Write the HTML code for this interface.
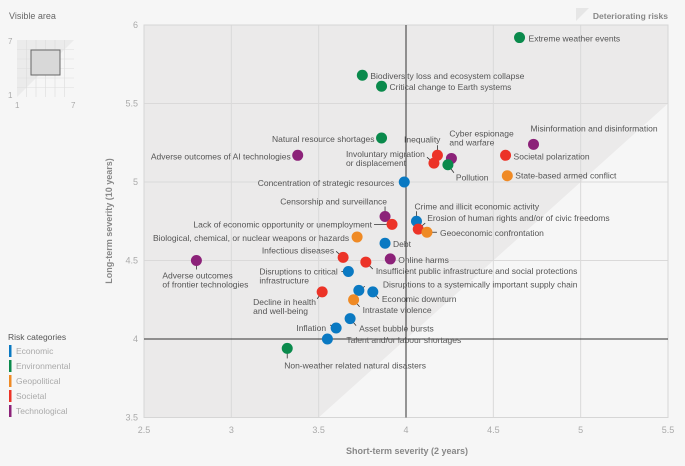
<!DOCTYPE html>
<html><head><meta charset="utf-8"><style>
body{margin:0;background:#f6f6f6;font-family:"Liberation Sans",sans-serif}
svg text{font-family:"Liberation Sans",sans-serif}
</style></head><body>
<svg id="c" width="685" height="461" xmlns="http://www.w3.org/2000/svg">
<rect x="0" y="0" width="685" height="461" fill="#f6f6f6"/>
<g>
<text x="9" y="19" font-size="9" fill="#666">Visible area</text>
<rect x="17" y="40" width="57" height="57" fill="#ebebeb"/>
<polygon points="17,97 74,97 74,40" fill="#f6f6f6"/>
<path d="M26.5,40V97M36,40V97M45.5,40V97M55,40V97M64.5,40V97M17,49.5H74M17,59H74M17,68.5H74M17,78H74M17,87.5H74" stroke="#ddd" stroke-width="0.6"/>
<rect x="31" y="50" width="29" height="25" fill="#d8d8d8" stroke="#666" stroke-width="1"/>
<text x="8" y="44" font-size="8" fill="#aaa">7</text><text x="8" y="98" font-size="8" fill="#aaa">1</text>
<text x="15" y="108" font-size="8" fill="#aaa">1</text><text x="71" y="108" font-size="8" fill="#aaa">7</text>
</g>
<g>
<text x="8" y="340" font-size="8.5" fill="#555">Risk categories</text>
<g id="leg"></g>
</g>
<g>
<polygon points="576,8 589,8 576,21" fill="#e6e6e6"/>
<text x="668" y="19" font-size="8.5" font-weight="bold" fill="#888" text-anchor="end">Deteriorating risks</text>
</g>
<g id="plot"></g>
<text x="407" y="454" font-size="9" font-weight="bold" fill="#888" text-anchor="middle">Short-term severity (2 years)</text>
<text transform="translate(112,221) rotate(-90)" font-size="9" font-weight="bold" fill="#888" text-anchor="middle">Long-term severity (10 years)</text>
</svg>
<script>
const categories=["Economic","Environmental","Geopolitical","Societal","Technological"];
const catColors=["#0a79c2","#0a8a4c","#ef8a25","#ec3327","#8c2279"];
const xTicks=[2.5,3,3.5,4,4.5,5,5.5];
const yTicks=[3.5,4,4.5,5,5.5,6];
const xTickLabels=["2.5","3","3.5","4","4.5","5","5.5"];
const yTickLabels=["3.5","4","4.5","5","5.5","6"];
const riskNames=["Extreme weather events","Biodiversity loss and ecosystem collapse","Critical change to Earth systems","Natural resource shortages","Adverse outcomes of AI technologies","Inequality","Involuntary migration|or displacement","Cyber espionage|and warfare","Pollution","Misinformation and disinformation","Societal polarization","State-based armed conflict","Concentration of strategic resources","Censorship and surveillance","Lack of economic opportunity or unemployment","Crime and illicit economic activity","Erosion of human rights and/or of civic freedoms","Geoeconomic confrontation","Biological, chemical, or nuclear weapons or hazards","Debt","Online harms","Infectious diseases","Insufficient public infrastructure and social protections","Adverse outcomes|of frontier technologies","Disruptions to critical|infrastructure","Disruptions to a systemically important supply chain","Economic downturn","Decline in health|and well-being","Intrastate violence","Asset bubble bursts","Inflation","Talent and/or labour shortages","Non-weather related natural disasters"];
const riskCat=[1,1,1,1,4,3,3,4,1,4,3,2,0,4,3,0,3,2,2,0,4,3,3,4,0,0,0,3,2,0,0,0,1];
const shortTerm=[4.65,3.75,3.86,3.86,3.38,4.18,4.16,4.26,4.24,4.73,4.57,4.58,3.99,3.88,3.92,4.06,4.07,4.12,3.72,3.88,3.91,3.64,3.77,2.80,3.67,3.73,3.81,3.52,3.70,3.68,3.60,3.55,3.32];
const longTerm=[5.92,5.68,5.61,5.28,5.17,5.17,5.12,5.15,5.11,5.24,5.17,5.04,5.00,4.78,4.73,4.75,4.70,4.68,4.65,4.61,4.51,4.52,4.49,4.50,4.43,4.31,4.30,4.30,4.25,4.13,4.07,4.00,3.94];
// label layout: dx, dy, anchor, leader end dx, leader end dy
const labelLayout=[[9,4,"start",0,0],[8,4,"start",0,0],[8,4,"start",0,0],[-7,4,"end",0,0],[-7,4,"end",0,0],[3,-13,"end",0,-10],[-88,-6,"start",-7,-6],[-2,-22,"start",0,0],[8,16,"start",6,8],[-3,-13,"start",0,0],[8,4,"start",0,0],[8,3,"start",0,0],[-10,4,"end",0,0],[2,-12,"end",0,-10],[-20,3,"end",-18,0],[-2,-12,"start",0,-10],[9,-8,"start",7,-6],[13,4,"start",10,0],[-8,4,"end",0,0],[8,4,"start",0,0],[8,4,"start",0,0],[-9,-4,"end",-7,-6],[10,12,"start",7,7],[-34,18,"start",0,9],[-89,3,"start",-7,0],[24,-3,"start",6,-4],[9,10,"start",6,7],[-69,13,"start",-5,7],[9,13,"start",6,7],[9,13,"start",6,7],[-10,3,"end",-6,-3],[19,4,"start",17,0],[-3,20,"start",0,10]];

const NS="http://www.w3.org/2000/svg";
const L=144,R=668,T=25,B=417.5;
const xs=v=>L+(v-2.5)/3*(R-L);
const ys=v=>B-(v-3.5)/2.5*(B-T);
function mk(tag,attrs,parent){const e=document.createElementNS(NS,tag);for(const k in attrs)e.setAttribute(k,attrs[k]);parent.appendChild(e);return e;}
const plot=document.getElementById('plot');
const bg=mk('rect',{x:L,y:T,width:R-L,height:B-T,fill:'#ebeaea'},plot);


const tri=mk('polygon',{points:`${xs(3.5)},${B} ${R},${B} ${R},${ys(5.5)}`,fill:'#f6f6f6'},plot);


xTicks.forEach((t,i)=>{
  if(t!==4&&t!==2.5&&t!==5.5){const g=mk('line',{x1:xs(t),x2:xs(t),y1:T,y2:B,stroke:'#dad9d9','stroke-width':1},plot);
  
  }
  const tx=mk('text',{x:xs(t),y:433,'font-size':9,fill:'#aaa','text-anchor':'middle'},plot);tx.textContent=xTickLabels[i];
  
  
});
yTicks.forEach((t,i)=>{
  if(t!==4&&t!==3.5&&t!==6){const g=mk('line',{x1:L,x2:R,y1:ys(t),y2:ys(t),stroke:'#dad9d9','stroke-width':1},plot);
  
  }
  const tx=mk('text',{x:138,y:ys(t)+3,'font-size':9,fill:'#aaa','text-anchor':'end'},plot);tx.textContent=yTickLabels[i];
  
  
});
const fr=mk('rect',{x:L,y:T,width:R-L,height:B-T,fill:'none',stroke:'#d6d6d6','stroke-width':1},plot);


const vx=mk('line',{x1:xs(4),x2:xs(4),y1:T,y2:B,stroke:'#333','stroke-width':1},plot);


const hy=mk('line',{x1:L,x2:R,y1:ys(4),y2:ys(4),stroke:'#333','stroke-width':1},plot);


riskNames.forEach((n,i)=>{
  const px=xs(shortTerm[i]),py=ys(longTerm[i]);const [dx,dy,an,lx,ly]=labelLayout[i];
  const g=mk('g',{},plot);
  
  
  if(lx||ly){const ln=mk('line',{x1:px,y1:py,x2:px+lx,y2:py+ly,stroke:'#333','stroke-width':0.8},g);
    
    }
  const c=mk('circle',{cx:px,cy:py,r:5.5,fill:catColors[riskCat[i]]},g);
  
  
  const lines=n.split('|');
  const t=mk('text',{x:px+dx,y:py+dy,'font-size':8.5,fill:'#555','text-anchor':an},g);
  
  
  lines.forEach((s,k)=>{const ts=mk('tspan',{x:px+dx,dy:k?9:0},t);ts.textContent=s;});
});
const leg=document.getElementById('leg');
categories.forEach((c,i)=>{
  const y=345+i*15;
  const g=mk('g',{},leg);
  
  
  mk('rect',{x:9,y:y,width:2.5,height:12,fill:catColors[i]},g);
  const t=mk('text',{x:16,y:y+9,'font-size':8.5,fill:'#aaa'},g);t.textContent=c;
});
</script>
</body></html>
